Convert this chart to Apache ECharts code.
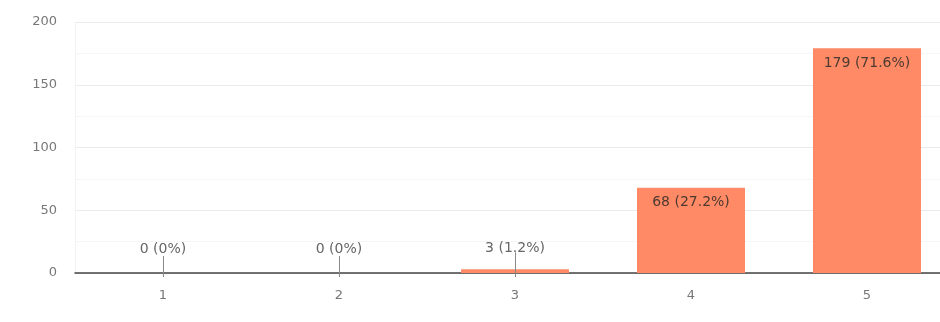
<!DOCTYPE html>
<html>
<head>
<meta charset="utf-8">
<script src="https://cdn.jsdelivr.net/npm/echarts@6/dist/echarts.min.js"></script>
<style>
  html, body { margin: 0; padding: 0; background: #fff; overflow: hidden; }
  /* plot area runs a little past the right edge of the window */
  #chart { width: 955px; height: 322px; }
</style>
</head>
<body>
<div id="chart"></div>
<script>
// Response counts per rating
const categories = ['1', '2', '3', '4', '5'];
const counts = [0, 0, 3, 68, 179];
const percents = ['0%', '0%', '1.2%', '27.2%', '71.6%'];
const yTicks = [0, 50, 100, 150, 200];

const BAR_COLOR = '#ff8a65';
const FONT = 'DejaVu Sans';
const INSIDE_MIN = 20; // bars at least this tall carry their label inside

const barData = counts.map((v, i) => {
  const inside = v >= INSIDE_MIN;
  return {
    value: v,
    label: inside
      ? { position: 'insideTop', distance: 8, color: '#4d3a31' }
      : { position: 'top', distance: v > 0 ? 14 : 17, color: '#666' }
  };
});

// short stems under outside labels, reaching through the axis
const stemData = counts.map((v, i) => [i, v]).filter(d => d[1] < INSIDE_MIN);

const chart = echarts.init(document.getElementById('chart'), null, { renderer: 'canvas' });
chart.setOption({
  animation: false,
  backgroundColor: '#fff',
  grid: { left: 75, top: 22, right: 0, height: 251, containLabel: false },
  xAxis: {
    type: 'category',
    data: categories,
    axisLine: { show: true, lineStyle: { color: '#444', width: 1.5 } },
    axisTick: { show: false },
    axisLabel: { color: '#777', fontFamily: FONT, fontSize: 13, margin: 16 },
    splitLine: { show: false }
  },
  yAxis: {
    type: 'value',
    min: yTicks[0],
    max: yTicks[yTicks.length - 1],
    interval: yTicks[1] - yTicks[0],
    axisLine: { show: true, lineStyle: { color: '#f2f2f2', width: 1 } },
    axisTick: { show: false },
    axisLabel: { color: '#777', fontFamily: FONT, fontSize: 13, margin: 18 },
    splitLine: { show: true, lineStyle: { color: '#ebebeb', width: 1 } },
    minorTick: { show: false, splitNumber: 2 },
    minorSplitLine: { show: true, lineStyle: { color: '#f6f6f6', width: 1 } }
  },
  series: [
    {
      type: 'bar',
      data: barData,
      barWidth: 108,
      itemStyle: { color: BAR_COLOR },
      label: {
        show: true,
        fontFamily: FONT,
        fontSize: 14,
        formatter: p => counts[p.dataIndex] + ' (' + percents[p.dataIndex] + ')'
      },
      z: 2
    },
    {
      type: 'custom',
      data: stemData,
      z: 3,
      silent: true,
      renderItem: (params, api) => {
        const pt = api.coord([api.value(0), api.value(1)]);
        const base = api.coord([api.value(0), 0]);
        return {
          type: 'line',
          shape: { x1: Math.round(pt[0]) + 0.5, y1: pt[1] - 17, x2: Math.round(pt[0]) + 0.5, y2: base[1] + 4 },
          style: { stroke: '#888', lineWidth: 1 }
        };
      }
    }
  ]
});
</script>
</body>
</html>
